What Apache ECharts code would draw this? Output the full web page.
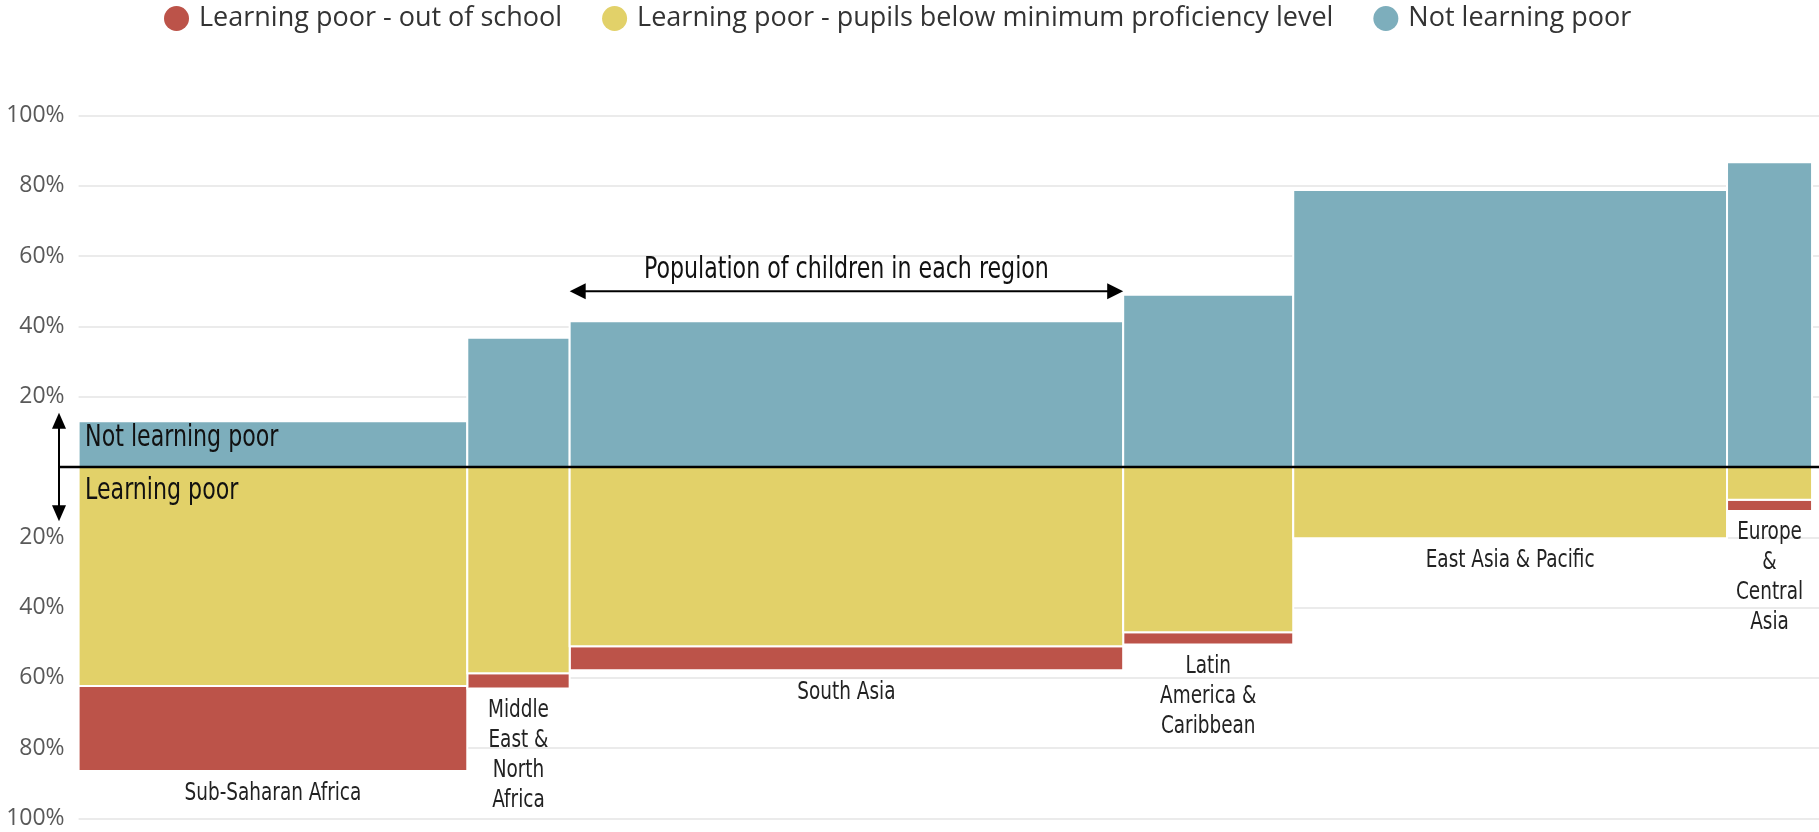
<!DOCTYPE html>
<html>
<head>
<meta charset="utf-8">
<script src="https://cdn.jsdelivr.net/npm/echarts@6/dist/echarts.min.js"></script>
<style>
  html, body { margin: 0; padding: 0; background: #fff; }
  #chart { width: 1819px; height: 832px; }
</style>
</head>
<body>
<div id="chart"></div>
<script>
// regions, in order along the x axis
const regions = [
  "Sub-Saharan Africa",
  "Middle\nEast &\nNorth\nAfrica",
  "South Asia",
  "Latin\nAmerica &\nCaribbean",
  "East Asia & Pacific",
  "Europe\n&\nCentral\nAsia"
];
// share of the world's children living in each region (%) -> bar widths
const childShare = [22.4, 5.9, 31.9, 9.8, 25.0, 4.9];
// % of children in each group
const notLearningPoor = [13.0, 36.8, 41.5, 49.0, 78.8, 86.7];
const belowMinimum = [62.3, 58.7, 51.0, 47.0, 20.3, 9.3];
const outOfSchool = [24.2, 4.3, 6.8, 3.5, 0, 3.2];

const seriesNames = [
  "Learning poor - out of school",
  "Learning poor - pupils below minimum proficiency level",
  "Not learning poor"
];
const colors = ["#bc5349", "#e2d169", "#7daebc"];

// no condensed font is installed, so the text is squeezed a little
const labelFont = "'Liberation Sans Narrow', 'DejaVu Sans Condensed', sans-serif";
const squeeze = 0.82;
const X_MAX = 100.3;

// cumulative left edge of every region
let starts = [];
let acc = 0;
for (let s of childShare) {
  starts.push(acc);
  acc += s;
}

let nlpData = [], bmpData = [], oosData = [];
regions.forEach((r, i) => {
  let x0 = starts[i], x1 = starts[i] + childShare[i];
  nlpData.push([x0, x1, 0, notLearningPoor[i], i]);
  bmpData.push([x0, x1, 0, -belowMinimum[i], i]);
  oosData.push([x0, x1, -belowMinimum[i], -(belowMinimum[i] + outOfSchool[i]), i]);
});

function makeRender(withLabel) {
  return function (params, api) {
    let a = api.coord([api.value(0), api.value(2)]);
    let b = api.coord([api.value(1), api.value(3)]);
    let children = [];
    let h = Math.abs(b[1] - a[1]);
    if (h > 0.5) {
      children.push({
        type: "rect",
        shape: { x: a[0], y: Math.min(a[1], b[1]), width: b[0] - a[0], height: h },
        style: { fill: api.visual("color"), stroke: "#fff", lineWidth: 2 }
      });
    }
    if (withLabel) {
      children.push({
        type: "text",
        x: (a[0] + b[0]) / 2,
        y: Math.max(a[1], b[1]) + 7,
        scaleX: squeeze,
        style: {
          text: regions[api.value(4)],
          fill: "#222",
          fontSize: 25,
          fontFamily: labelFont,
          align: "center",
          verticalAlign: "top",
          lineHeight: 30
        }
      });
    }
    return { type: "group", children: children };
  };
}

let myChart = echarts.init(document.getElementById("chart"));

let option = {
  animation: false,
  color: colors,
  legend: {
    top: 0,
    left: 159,
    icon: "circle",
    itemWidth: 25,
    itemHeight: 25,
    itemGap: 40,
    textStyle: {
      fontFamily: "Open Sans",
      fontSize: 27,
      color: "#333",
      padding: [0, 0, 0, 5]
    },
    data: seriesNames
  },
  grid: { left: 78.6, right: 0, top: 115.5, bottom: 13.5 },
  xAxis: {
    type: "value",
    min: 0,
    max: X_MAX,
    show: false
  },
  yAxis: {
    type: "value",
    min: -100,
    max: 100,
    interval: 20,
    axisLine: { show: false },
    axisTick: { show: false },
    splitLine: { lineStyle: { color: "#ebebeb", width: 2 } },
    axisLabel: {
      fontFamily: "Open Sans",
      fontSize: 23,
      color: "#595959",
      margin: 14,
      formatter: (v) => (v === 0 ? "" : Math.abs(v) + "%")
    }
  },
  series: [
    {
      name: seriesNames[0],
      type: "custom",
      renderItem: makeRender(true),
      encode: { x: [0, 1], y: [2, 3] },
      data: oosData
    },
    {
      name: seriesNames[1],
      type: "custom",
      renderItem: makeRender(false),
      encode: { x: [0, 1], y: [2, 3] },
      data: bmpData
    },
    {
      name: seriesNames[2],
      type: "custom",
      renderItem: makeRender(false),
      encode: { x: [0, 1], y: [2, 3] },
      data: nlpData
    }
  ]
};
myChart.setOption(option);

// annotations: zero line, arrows and their texts
function px(x, y) {
  return myChart.convertToPixel({ gridIndex: 0 }, [x, y]);
}
let zero = px(0, 0);
let arrowX = zero[0] - 19.6;
let up = px(0, 15.4)[1];
let down = px(0, -15.4)[1];
let saLeft = px(starts[2], 50)[0];
let saRight = px(starts[2] + childShare[2], 50)[0];
let popY = px(0, 50)[1];
let head = 16;

function label(text, x, y, align) {
  return {
    type: "text",
    x: x,
    y: y,
    scaleX: squeeze,
    style: {
      text: text,
      fill: "#111",
      fontSize: 30,
      fontFamily: labelFont,
      align: align,
      verticalAlign: "middle"
    },
    z: 100
  };
}

let graphics = [
  {
    type: "line",
    shape: { x1: arrowX, y1: zero[1], x2: 1819, y2: zero[1] },
    style: { stroke: "#000", lineWidth: 2.5 },
    z: 100
  },
  {
    type: "line",
    shape: { x1: arrowX, y1: up + head - 2, x2: arrowX, y2: down - head + 2 },
    style: { stroke: "#000", lineWidth: 2 },
    z: 100
  },
  {
    type: "polygon",
    shape: { points: [[arrowX, up], [arrowX - 7, up + head], [arrowX + 7, up + head]] },
    style: { fill: "#000" },
    z: 100
  },
  {
    type: "polygon",
    shape: { points: [[arrowX, down], [arrowX - 7, down - head], [arrowX + 7, down - head]] },
    style: { fill: "#000" },
    z: 100
  },
  {
    type: "line",
    shape: { x1: saLeft + head - 2, y1: popY, x2: saRight - head + 2, y2: popY },
    style: { stroke: "#000", lineWidth: 2 },
    z: 100
  },
  {
    type: "polygon",
    shape: { points: [[saLeft, popY], [saLeft + head, popY - 8], [saLeft + head, popY + 8]] },
    style: { fill: "#000" },
    z: 100
  },
  {
    type: "polygon",
    shape: { points: [[saRight, popY], [saRight - head, popY - 8], [saRight - head, popY + 8]] },
    style: { fill: "#000" },
    z: 100
  },
  label("Population of children in each region", (saLeft + saRight) / 2, popY - 21, "center"),
  label("Not learning poor", zero[0] + 6.5, zero[1] - 29, "left"),
  label("Learning poor", zero[0] + 6.5, zero[1] + 24, "left")
];
myChart.setOption({ graphic: graphics });
</script>
</body>
</html>
